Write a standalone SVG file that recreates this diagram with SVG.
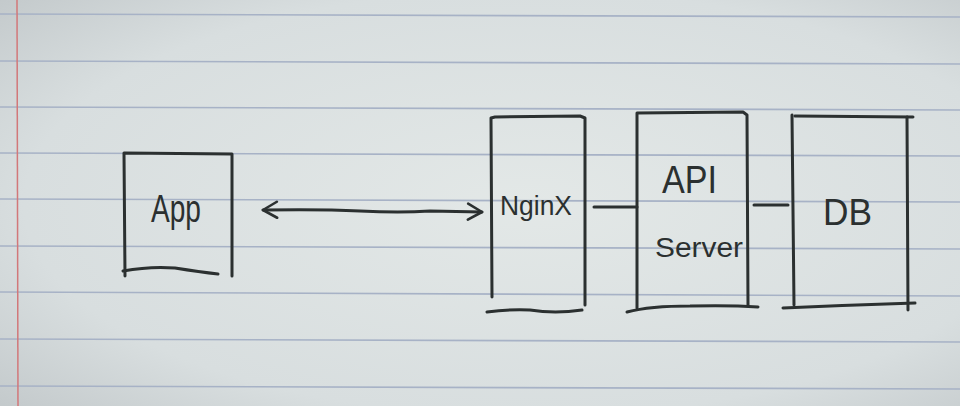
<svg xmlns="http://www.w3.org/2000/svg" width="960" height="406" viewBox="0 0 960 406">
<defs>
<radialGradient id="paper" cx="0.55" cy="0.5" r="0.75">
<stop offset="0" stop-color="#e3e8e7"/>
<stop offset="0.7" stop-color="#d8dedf"/>
<stop offset="1" stop-color="#c3c9cb"/>
</radialGradient>
<marker id="chev" viewBox="0 0 20 20" refX="17" refY="10" markerWidth="20" markerHeight="20" markerUnits="userSpaceOnUse" orient="auto-start-reverse">
<path d="M3 2 L17 10 L3 18" fill="none" stroke="#2b3030" stroke-width="2.6" stroke-linecap="round" stroke-linejoin="round"/>
</marker>
</defs>
<style>
.rule{stroke:#a7b2c6;stroke-width:1.6;fill:none}
.ink{stroke:#2b3030;stroke-width:3;fill:none;stroke-linecap:round;stroke-linejoin:round}
.lbl{font-family:"Liberation Sans","DejaVu Sans",sans-serif;fill:#2b3030;lengthAdjust:spacingAndGlyphs}
</style>
<rect width="960" height="406" fill="url(#paper)"/>
<g id="paper-lines">
<path class="rule" d="M0 14 L960 17"/>
<path class="rule" d="M0 61 L960 64"/>
<path class="rule" d="M0 107 L960 110"/>
<path class="rule" d="M0 153 L960 156"/>
<path class="rule" d="M0 199 L960 202"/>
<path class="rule" d="M0 246 L960 249"/>
<path class="rule" d="M0 292 L960 296"/>
<path class="rule" d="M0 339 L960 342"/>
<path class="rule" d="M0 386 L960 389"/>
<path d="M17 0 L18 406" stroke="#d2787a" stroke-width="1.5"/>
</g>
<g id="app">
<path class="ink" d="M125 276 L124 153 L232 154 L232 276"/>
<path class="ink" d="M123 271 Q150 266 175 268 Q200 272 218 274"/>
<text class="lbl" x="151" y="222" font-size="38" textLength="50" lengthAdjust="spacingAndGlyphs">App</text>
</g>
<g id="nginx">
<path class="ink" d="M492 297 L491 118 L495 117 L580 116 L585 118 L585 305"/>
<path class="ink" d="M487 312 Q510 309 530 310 Q555 314 582 310"/>
<text class="lbl" x="500" y="215" font-size="27" textLength="72" lengthAdjust="spacingAndGlyphs">NginX</text>
</g>
<g id="api-server">
<path class="ink" d="M637 308 L637 113 L743 112 L747 115 L748 305"/>
<path class="ink" d="M627 312 Q650 306 690 306 Q730 305 758 307"/>
<text class="lbl" x="662" y="193" font-size="38" textLength="55" lengthAdjust="spacingAndGlyphs">API</text>
<text class="lbl" x="655" y="257" font-size="27" textLength="88" lengthAdjust="spacingAndGlyphs">Server</text>
</g>
<g id="db">
<path class="ink" d="M792 115 L794 305"/>
<path class="ink" d="M795 116 L913 117"/>
<path class="ink" d="M907 117 L908 310"/>
<path class="ink" d="M783 308 Q850 305 915 303"/>
<text class="lbl" x="823" y="225" font-size="37" textLength="49" lengthAdjust="spacingAndGlyphs">DB</text>
</g>
<g id="connectors">
<path class="ink" d="M263 210 Q320 209 360 211 Q400 213 430 211 L482 212" marker-start="url(#chev)" marker-end="url(#chev)"/>
<path class="ink" d="M594 207 L637 207"/>
<path class="ink" d="M754 205 L788 205"/>
</g>
</svg>
